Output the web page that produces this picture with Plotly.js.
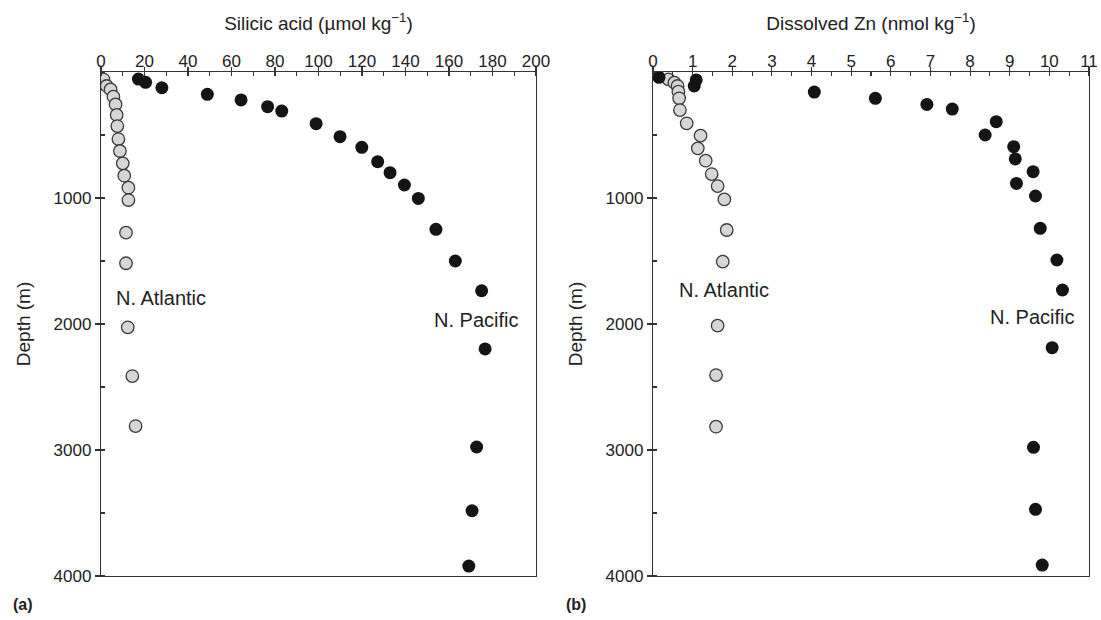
<!DOCTYPE html>
<html>
<head>
<meta charset="utf-8">
<script src="https://cdn.plot.ly/plotly-3.0.1.min.js"></script>
<style>html,body{margin:0;padding:0;background:#fff;}#chart{width:1101px;height:620px;}</style>
</head>
<body>
<div id="chart"></div>
<script>
// ---- Panel (a): silicic acid (µmol kg-1) vs depth (m) ----
const siAtlDepth = [58, 111, 138, 196, 257, 341, 429, 532, 627, 725, 823, 918, 1016, 1275, 1518, 2026, 2413, 2810];
const siAtlValue = [1.1, 2.6, 4.4, 5.7, 6.7, 7.2, 7.5, 8.0, 8.7, 10.0, 10.7, 12.6, 12.6, 11.5, 11.5, 12.3, 14.4, 15.9];
const siPacDepth = [56, 82, 125, 177, 222, 275, 310, 410, 513, 598, 712, 799, 897, 1003, 1249, 1500, 1736, 2198, 2976, 3482, 3921];
const siPacValue = [17.2, 20.5, 28.0, 48.9, 64.4, 76.6, 83.1, 98.9, 109.9, 119.9, 127.2, 132.9, 139.5, 145.9, 154.0, 162.9, 175.0, 176.6, 172.7, 170.6, 169.1];

// ---- Panel (b): dissolved Zn (nmol kg-1) vs depth (m) ----
const znAtlDepth = [58, 85, 111, 156, 209, 302, 407, 505, 606, 704, 810, 905, 1011, 1254, 1505, 2013, 2405, 2815];
const znAtlValue = [0.39, 0.54, 0.62, 0.64, 0.66, 0.68, 0.85, 1.20, 1.13, 1.33, 1.48, 1.63, 1.80, 1.86, 1.76, 1.63, 1.59, 1.59];
const znPacDepth = [42, 63, 111, 159, 209, 257, 294, 394, 500, 593, 690, 791, 884, 984, 1241, 1492, 1730, 2188, 2979, 3471, 3913];
const znPacValue = [0.15, 1.09, 1.04, 4.07, 5.61, 6.91, 7.55, 8.66, 8.38, 9.10, 9.14, 9.59, 9.17, 9.65, 9.77, 10.19, 10.33, 10.07, 9.60, 9.65, 9.82];

// ---- Tick labels / text ----
const siTicks = [0, 20, 40, 60, 80, 100, 120, 140, 160, 180, 200];
const znTicks = [0, 1, 2, 3, 4, 5, 6, 7, 8, 9, 10, 11];
const depthTicks = [1000, 2000, 3000, 4000];
const siTitle = 'Silicic acid (µmol kg<sup>−1</sup>)';
const znTitle = 'Dissolved Zn (nmol kg<sup>−1</sup>)';
const depthTitle = 'Depth (m)';
const labelAtl = 'N. Atlantic';
const labelPac = 'N. Pacific';

const FONT = 'Liberation Sans, Arial, Helvetica, sans-serif';
const INK = '#222';
const LINE = '#333';

const grayMarker = {size: 12.5, color: '#d6d6d6', line: {color: '#3a3a3a', width: 1.3}};
const blackMarker = {size: 13, color: '#141414', line: {color: '#141414', width: 0}};

const traces = [
  {x: siAtlValue, y: siAtlDepth, xaxis: 'x', yaxis: 'y', mode: 'markers', marker: grayMarker, name: labelAtl},
  {x: siPacValue, y: siPacDepth, xaxis: 'x', yaxis: 'y', mode: 'markers', marker: blackMarker, name: labelPac},
  {x: znAtlValue, y: znAtlDepth, xaxis: 'x2', yaxis: 'y2', mode: 'markers', marker: grayMarker, name: labelAtl},
  {x: znPacValue, y: znPacDepth, xaxis: 'x2', yaxis: 'y2', mode: 'markers', marker: blackMarker, name: labelPac},
  // empty traces that activate the inner tick-mark overlay axes
  {x: [], y: [], xaxis: 'x3', yaxis: 'y', mode: 'markers', hoverinfo: 'skip'},
  {x: [], y: [], xaxis: 'x', yaxis: 'y3', mode: 'markers', hoverinfo: 'skip'},
  {x: [], y: [], xaxis: 'x4', yaxis: 'y2', mode: 'markers', hoverinfo: 'skip'},
  {x: [], y: [], xaxis: 'x2', yaxis: 'y4', mode: 'markers', hoverinfo: 'skip'}
];

const W = 1101, H = 620;
const domA = [101 / W, 536 / W];
const domB = [653 / W, 1089 / W];
const domY = [(H - 576) / H, (H - 72) / H];

function xAxis(dom, range, ticks, minorStep, title, anchor) {
  return {
    domain: dom, range: range, side: 'top', anchor: anchor,
    showgrid: false, zeroline: false,
    showline: true, mirror: true, linecolor: LINE, linewidth: 1.2,
    ticks: 'outside', ticklen: 4, tickwidth: 1.1, tickcolor: LINE,
    tickmode: 'array', tickvals: ticks, ticklabelstandoff: -7,
    minor: {ticks: 'inside', ticklen: 4, tickwidth: 1.1, tickcolor: LINE, dtick: minorStep, tick0: 0, showgrid: false},
    tickfont: {family: FONT, size: 17, color: INK},
    title: {text: title, font: {family: FONT, size: 19, color: INK}, standoff: 16},
    automargin: false, fixedrange: true
  };
}
function yAxis(dom, anchor) {
  return {
    domain: domY, range: [4000, 0], anchor: anchor,
    showgrid: false, zeroline: false,
    showline: true, mirror: true, linecolor: LINE, linewidth: 1.2,
    ticks: 'outside', ticklen: 5, tickwidth: 1.1, tickcolor: LINE,
    tickmode: 'array', tickvals: depthTicks,
    minor: {ticks: 'inside', ticklen: 4, tickwidth: 1.1, tickcolor: LINE, dtick: 500, tick0: 0, showgrid: false},
    tickfont: {family: FONT, size: 17, color: INK},
    title: {text: depthTitle, font: {family: FONT, size: 19, color: INK}, standoff: 18},
    automargin: false, fixedrange: true
  };
}
function innerX(over, range, ticks, anchor) {
  return {overlaying: over, anchor: anchor, side: 'top', range: range, showgrid: false, zeroline: false,
    showline: false, ticks: 'inside', ticklen: 4, tickwidth: 1.1, tickcolor: LINE,
    tickmode: 'array', tickvals: ticks, showticklabels: false, automargin: false, fixedrange: true};
}
function innerY(over, anchor) {
  return {overlaying: over, anchor: anchor, side: 'left', range: [4000, 0], showgrid: false, zeroline: false,
    showline: false, ticks: 'inside', ticklen: 4, tickwidth: 1.1, tickcolor: LINE,
    tickmode: 'array', tickvals: depthTicks, showticklabels: false, automargin: false, fixedrange: true};
}

const layout = {
  width: W, height: H,
  margin: {l: 0, r: 0, t: 0, b: 0, pad: 0},
  paper_bgcolor: '#fff', plot_bgcolor: '#fff',
  showlegend: false,
  font: {family: FONT, color: INK},
  xaxis: xAxis(domA, [0, 200], siTicks, 10, siTitle, 'y'),
  yaxis: yAxis(domA, 'x'),
  xaxis2: xAxis(domB, [0, 11], znTicks, 0.5, znTitle, 'y2'),
  yaxis2: yAxis(domB, 'x2'),
  xaxis3: innerX('x', [0, 200], siTicks, 'y'),
  yaxis3: innerY('y', 'x'),
  xaxis4: innerX('x2', [0, 11], znTicks, 'y2'),
  yaxis4: innerY('y2', 'x2'),
  annotations: [
    {xref: 'x', yref: 'y', x: 27.4, y: 1790, text: labelAtl, showarrow: false, font: {family: FONT, size: 20, color: INK}},
    {xref: 'x', yref: 'y', x: 172.4, y: 1965, text: labelPac, showarrow: false, font: {family: FONT, size: 20, color: INK}},
    {xref: 'x2', yref: 'y2', x: 1.80, y: 1730, text: labelAtl, showarrow: false, font: {family: FONT, size: 20, color: INK}},
    {xref: 'x2', yref: 'y2', x: 9.56, y: 1945, text: labelPac, showarrow: false, font: {family: FONT, size: 20, color: INK}},
    {xref: 'paper', yref: 'paper', x: 23 / W, y: 1 - 604 / H, xanchor: 'center', yanchor: 'middle', text: '<b>(a)</b>', showarrow: false, font: {family: FONT, size: 16, color: INK}},
    {xref: 'paper', yref: 'paper', x: 576 / W, y: 1 - 604 / H, xanchor: 'center', yanchor: 'middle', text: '<b>(b)</b>', showarrow: false, font: {family: FONT, size: 16, color: INK}}
  ]
};

Plotly.newPlot('chart', traces, layout, {displayModeBar: false, staticPlot: true});
</script>
</body>
</html>
